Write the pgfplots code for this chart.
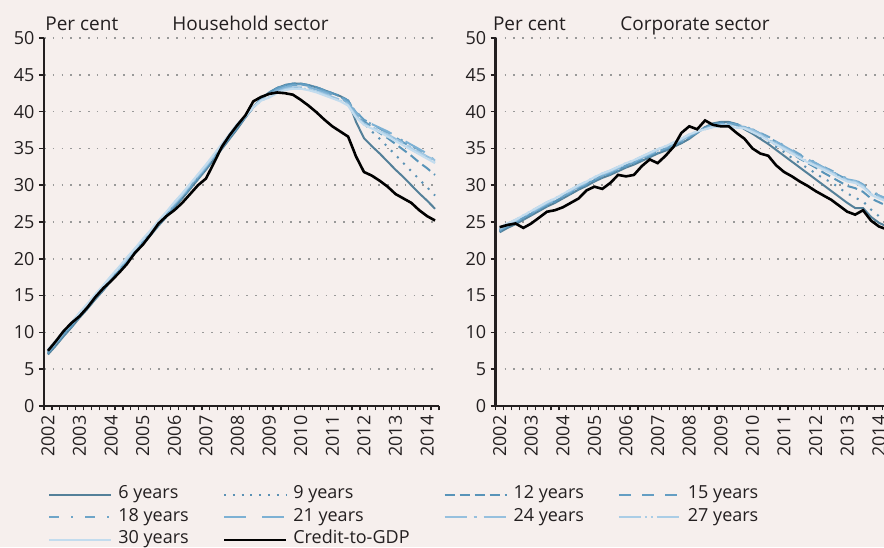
\documentclass[border=0pt]{standalone}
\usepackage{fontspec}
\setmainfont{Open Sans}
\usepackage{pgfplots}
\usepackage{pgfplotstable}
\pgfplotsset{compat=1.18}

\definecolor{bg}{RGB}{246,239,237}
\definecolor{txt}{RGB}{35,31,32}
\definecolor{y6}{RGB}{84,128,153}
\definecolor{y9}{RGB}{90,145,180}
\definecolor{y12}{RGB}{88,148,185}
\definecolor{y15}{RGB}{100,158,195}
\definecolor{y18}{RGB}{110,165,200}
\definecolor{y21}{RGB}{125,177,212}
\definecolor{y24}{RGB}{150,192,222}
\definecolor{y27}{RGB}{170,205,230}
\definecolor{y30}{RGB}{195,220,238}

% quarter index 0 = 2002Q1 ... 49 = 2014Q2
\pgfplotstableread{
i c6 c9 c12 c15 c18 c21 c24 c27 c30 cr
0 7.0 7.1 7.2 7.3 7.4 7.4 7.5 7.6 7.7 7.5
1 8.2 8.3 8.4 8.5 8.6 8.6 8.7 8.8 8.9 8.8
2 9.5 9.6 9.7 9.8 9.9 9.9 10.0 10.1 10.2 10.2
3 10.7 10.8 10.9 11.0 11.1 11.1 11.2 11.3 11.4 11.3
4 12.0 12.1 12.2 12.3 12.4 12.4 12.5 12.6 12.7 12.2
5 13.2 13.3 13.4 13.5 13.6 13.6 13.7 13.8 13.9 13.4
6 14.5 14.6 14.7 14.8 14.9 14.9 15.0 15.1 15.2 14.8
7 15.7 15.8 15.9 16.0 16.1 16.1 16.2 16.3 16.4 16.0
8 17.0 17.1 17.2 17.3 17.4 17.4 17.5 17.6 17.7 17.0
9 18.2 18.3 18.4 18.5 18.6 18.6 18.7 18.8 18.9 18.1
10 19.5 19.6 19.7 19.8 19.9 19.9 20.0 20.1 20.2 19.3
11 20.7 20.8 20.9 21.0 21.1 21.1 21.2 21.3 21.4 20.8
12 22.0 22.1 22.2 22.3 22.4 22.4 22.5 22.6 22.7 21.9
13 23.2 23.3 23.4 23.5 23.6 23.6 23.7 23.8 23.9 23.3
14 24.5 24.6 24.7 24.8 24.9 24.9 25.0 25.1 25.2 24.8
15 25.7 25.8 25.9 26.0 26.1 26.1 26.2 26.3 26.4 25.8
16 27.0 27.1 27.2 27.3 27.4 27.4 27.5 27.6 27.7 26.6
17 28.2 28.3 28.4 28.5 28.6 28.6 28.7 28.8 28.9 27.6
18 29.5 29.6 29.7 29.8 29.9 29.9 30.0 30.1 30.2 28.8
19 30.8 30.9 31.0 31.1 31.2 31.2 31.3 31.4 31.5 30.0
20 32.1 32.2 32.3 32.4 32.5 32.5 32.6 32.7 32.8 30.9
21 33.5 33.6 33.7 33.8 33.9 33.9 34.0 34.1 34.2 33.0
22 34.9 35.0 35.1 35.2 35.3 35.3 35.4 35.5 35.6 35.2
23 36.3 36.4 36.5 36.6 36.7 36.7 36.8 36.9 37.0 36.8
24 37.7 37.8 37.9 38.0 38.1 38.1 38.2 38.3 38.4 38.2
25 39.2 39.2 39.3 39.3 39.3 39.3 39.4 39.4 39.4 39.5
26 40.6 40.6 40.6 40.6 40.6 40.6 40.6 40.6 40.6 41.4
27 41.8 41.8 41.7 41.7 41.7 41.6 41.6 41.5 41.5 42.0
28 42.6 42.6 42.6 42.5 42.4 42.3 42.1 42.0 41.9 42.4
29 43.2 43.2 43.2 43.1 43.0 42.9 42.7 42.6 42.5 42.6
30 43.6 43.6 43.6 43.5 43.4 43.3 43.1 43.0 42.9 42.5
31 43.8 43.8 43.8 43.7 43.6 43.5 43.3 43.2 43.1 42.3
32 43.8 43.8 43.8 43.7 43.6 43.5 43.3 43.2 43.1 41.6
33 43.6 43.6 43.6 43.5 43.4 43.3 43.1 43.0 42.9 40.8
34 43.3 43.3 43.3 43.2 43.1 43.0 42.8 42.7 42.6 39.9
35 42.9 42.9 42.9 42.8 42.7 42.6 42.4 42.3 42.2 38.9
36 42.5 42.5 42.5 42.4 42.3 42.2 42.0 41.9 41.8 38.0
37 42.1 42.1 42.1 42.0 41.9 41.8 41.6 41.5 41.4 37.3
38 41.5 41.5 41.5 41.4 41.3 41.2 41.0 40.9 40.8 36.6
39 38.6 39.6 39.8 40.0 39.9 39.8 39.4 39.3 39.2 33.9
40 36.4 38.4 38.7 38.9 38.8 38.8 38.4 38.3 38.2 31.8
41 35.3 37.3 37.9 38.3 38.3 38.3 37.9 37.8 37.7 31.3
42 34.3 36.3 37.1 37.7 37.7 37.8 37.4 37.3 37.2 30.6
43 33.2 35.2 36.4 37.1 37.2 37.3 36.9 36.8 36.6 29.8
44 32.1 34.1 35.6 36.5 36.6 36.7 36.3 36.2 36.0 28.8
45 31.1 33.0 34.8 35.8 36.0 36.1 35.7 35.6 35.4 28.2
46 30.0 31.9 34.0 35.2 35.4 35.5 35.1 35.0 34.8 27.6
47 28.9 30.8 33.1 34.5 34.8 34.9 34.5 34.4 34.2 26.6
48 27.9 29.7 32.3 33.8 34.1 34.3 33.9 33.8 33.6 25.8
49 26.8 28.6 31.4 33.1 33.4 33.7 33.4 33.2 33.0 25.2
}\household

\pgfplotstableread{
i c6 c9 c12 c15 c18 c21 c24 c27 c30 cr
0 23.6 23.7 23.8 23.9 23.9 24.0 24.1 24.2 24.2 24.3
1 24.2 24.3 24.4 24.5 24.5 24.6 24.7 24.8 24.8 24.6
2 24.7 24.8 24.9 25.0 25.0 25.1 25.2 25.3 25.3 24.8
3 25.3 25.4 25.5 25.6 25.6 25.7 25.8 25.9 25.9 24.2
4 25.9 26.0 26.1 26.2 26.2 26.3 26.4 26.5 26.5 24.8
5 26.5 26.6 26.7 26.8 26.8 26.9 27.0 27.1 27.1 25.6
6 27.1 27.2 27.3 27.4 27.4 27.5 27.6 27.7 27.7 26.4
7 27.6 27.7 27.8 27.9 27.9 28.0 28.1 28.2 28.2 26.6
8 28.2 28.3 28.4 28.5 28.5 28.6 28.7 28.8 28.8 27.0
9 28.8 28.9 29.0 29.1 29.1 29.2 29.3 29.4 29.4 27.6
10 29.4 29.5 29.6 29.7 29.7 29.8 29.9 30.0 30.0 28.2
11 29.9 30.0 30.1 30.2 30.2 30.3 30.4 30.5 30.5 29.3
12 30.5 30.6 30.7 30.8 30.8 30.9 31.0 31.1 31.1 29.8
13 31.0 31.1 31.2 31.3 31.3 31.4 31.5 31.6 31.6 29.5
14 31.4 31.5 31.6 31.7 31.7 31.8 31.9 32.0 32.0 30.3
15 31.9 32.0 32.1 32.2 32.2 32.3 32.4 32.5 32.5 31.4
16 32.4 32.5 32.6 32.7 32.7 32.8 32.9 33.0 33.0 31.2
17 32.8 32.9 33.0 33.1 33.1 33.2 33.3 33.4 33.4 31.4
18 33.3 33.4 33.5 33.6 33.6 33.7 33.8 33.9 33.9 32.6
19 33.8 33.9 34.0 34.1 34.1 34.2 34.3 34.4 34.4 33.5
20 34.3 34.4 34.5 34.6 34.6 34.7 34.8 34.9 34.9 33.0
21 34.7 34.8 34.9 35.0 35.0 35.1 35.2 35.3 35.3 34.0
22 35.2 35.3 35.4 35.5 35.5 35.6 35.7 35.8 35.8 35.2
23 35.7 35.8 35.9 36.0 36.0 36.1 36.2 36.3 36.3 37.1
24 36.3 36.4 36.5 36.6 36.6 36.7 36.8 36.9 36.9 38.0
25 37.1 37.1 37.2 37.2 37.2 37.2 37.3 37.3 37.3 37.6
26 37.9 37.9 37.8 37.8 37.8 37.7 37.7 37.6 37.6 38.8
27 38.4 38.3 38.3 38.2 38.2 38.1 38.0 37.9 37.9 38.2
28 38.6 38.5 38.5 38.4 38.4 38.3 38.2 38.1 38.0 38.0
29 38.6 38.5 38.5 38.4 38.4 38.3 38.2 38.1 38.0 38.0
30 38.3 38.3 38.3 38.2 38.2 38.1 38.0 37.9 37.8 37.1
31 37.6 37.8 37.9 38.0 38.0 37.9 37.9 37.8 37.7 36.3
32 37.0 37.2 37.4 37.6 37.6 37.5 37.5 37.3 37.2 35.0
33 36.3 36.6 36.8 37.0 37.1 37.0 36.9 36.8 36.7 34.3
34 35.6 35.9 36.2 36.5 36.6 36.5 36.3 36.2 36.1 34.0
35 34.8 35.2 35.5 35.9 36.0 35.9 35.7 35.6 35.5 32.7
36 34.0 34.5 34.9 35.3 35.4 35.3 35.1 35.0 34.9 31.8
37 33.2 33.7 34.3 34.7 34.8 34.7 34.5 34.4 34.3 31.2
38 32.4 33.0 33.6 34.1 34.2 34.1 33.9 33.8 33.7 30.5
39 31.6 32.3 33.0 33.5 33.6 33.5 33.3 33.2 33.1 29.9
40 30.8 31.6 32.4 33.0 33.1 33.0 32.8 32.7 32.6 29.2
41 30.0 30.9 31.7 32.4 32.5 32.4 32.3 32.2 32.1 28.6
42 29.2 30.4 31.1 31.9 32.0 31.9 31.8 31.7 31.6 28.0
43 28.4 29.6 30.5 31.3 31.4 31.3 31.2 31.1 31.0 27.2
44 27.6 28.9 29.9 30.8 30.9 30.8 30.7 30.6 30.5 26.4
45 26.9 28.3 29.6 30.6 30.7 30.6 30.5 30.4 30.3 26.0
46 26.9 27.8 29.1 30.0 30.1 30.0 29.9 29.8 29.7 26.6
47 25.7 26.7 28.2 29.1 29.2 29.1 28.9 28.8 28.7 25.2
48 24.9 25.8 27.7 28.6 28.7 28.6 28.4 28.3 28.2 24.4
49 24.4 25.3 27.2 28.1 28.3 28.2 28.0 27.9 27.8 24.0
}\corporate

\pgfplotsset{
  panel/.style={
    scale only axis, width=197.5pt, height=184pt,
    xmin=-0.5, xmax=49.5, ymin=0, ymax=50,
    axis lines*=left,
    axis line style={txt, line width=1.25pt},
    xtick={0,4,...,48},
    xticklabels={2002,2003,2004,2005,2006,2007,2008,2009,2010,2011,2012,2013,2014},
    minor xtick={-0.5,0.5,...,49.5},
    every major x tick/.append style={draw=none},
    every minor x tick/.append style={txt, line width=0.6pt},
    minor tick length=2.2pt,
    ytick={0,5,...,50},
    major tick length=2.6pt,
    every major y tick/.append style={txt, line width=0.8pt},
    tick align=outside,
    ymajorgrids,
    grid style={gray!80, line width=0.8pt, dash pattern=on 0.8pt off 3.6pt},
    tick label style={font=\fontsize{9}{10}\selectfont, text=txt},
    xticklabel style={rotate=90, anchor=east, inner sep=2pt},
    yticklabel style={anchor=east, inner sep=2pt},
    /pgf/number format/assume math mode=true,
    legend image code/.code={\draw[##1] (0pt,0pt) -- (31pt,0pt);},
  },
  s6/.style={y6, line width=1pt},
  s9/.style={y9, line width=1pt, dash pattern=on 1pt off 3.4pt},
  s12/.style={y12, line width=1pt, dash pattern=on 5pt off 2.5pt},
  s15/.style={y15, line width=1pt, dash pattern=on 5.8pt off 5.8pt},
  s18/.style={y18, line width=1pt, dash pattern=on 5pt off 6pt on 1pt off 6pt},
  s21/.style={y21, line width=1pt, dash pattern=on 11pt off 8pt},
  s24/.style={y24, line width=1pt, dash pattern=on 11pt off 3.5pt on 1.5pt off 3.5pt},
  s27/.style={y27, line width=1pt, dash pattern=on 11pt off 2pt on 1pt off 2pt on 1pt off 2pt},
  s30/.style={y30, line width=1pt},
  scr/.style={black, line width=1.3pt},
}

\begin{document}
\begin{tikzpicture}
\useasboundingbox (0,0) rectangle (442pt,-273.5pt);
\fill[bg] (0,0) rectangle (442pt,-273.5pt);
\clip (0,0) rectangle (442pt,-273.5pt);

\begin{axis}[panel, at={(22pt,-203pt)}, anchor=south west,
  legend columns=4,
  legend cell align=left,
  legend style={at={(0.01,-0.21)}, anchor=north west, draw=none, fill=none,
    inner sep=0pt, font=\fontsize{9}{10}\selectfont, text=txt,
    nodes={inner sep=0pt, text height=7.5pt, text depth=3.75pt},
    /tikz/every odd column/.append style={column sep=3pt},
    /tikz/every even column/.append style={column sep=17pt}},
]
\addplot[s6] table[x=i, y=c6] {\household};
\addlegendentry{6 years}
\addplot[s9] table[x=i, y=c9] {\household};
\addlegendentry{9 years}
\addplot[s12] table[x=i, y=c12] {\household};
\addlegendentry{12 years}
\addplot[s15] table[x=i, y=c15] {\household};
\addlegendentry{15 years}
\addplot[s18] table[x=i, y=c18] {\household};
\addlegendentry{18 years}
\addplot[s21] table[x=i, y=c21] {\household};
\addlegendentry{21 years}
\addplot[s24] table[x=i, y=c24] {\household};
\addlegendentry{24 years}
\addplot[s27] table[x=i, y=c27] {\household};
\addlegendentry{27 years}
\addplot[s30] table[x=i, y=c30] {\household};
\addlegendentry{30 years}
\addplot[scr] table[x=i, y=cr] {\household};
\addlegendentry{Credit-to-GDP}
\end{axis}

\begin{axis}[panel, at={(247.85pt,-203pt)}, anchor=south west]
\addplot[s6] table[x=i, y=c6] {\corporate};
\addplot[s9] table[x=i, y=c9] {\corporate};
\addplot[s12] table[x=i, y=c12] {\corporate};
\addplot[s15] table[x=i, y=c15] {\corporate};
\addplot[s18] table[x=i, y=c18] {\corporate};
\addplot[s21] table[x=i, y=c21] {\corporate};
\addplot[s24] table[x=i, y=c24] {\corporate};
\addplot[s27] table[x=i, y=c27] {\corporate};
\addplot[s30] table[x=i, y=c30] {\corporate};
\addplot[scr] table[x=i, y=cr] {\corporate};
\end{axis}

\begin{scope}[font=\fontsize{9.5}{11}\selectfont, text=txt]
\node[anchor=base west, inner sep=0pt] at (22.5pt,-15pt) {Per cent};
\node[anchor=base west, inner sep=0pt] at (86pt,-15pt) {Household sector};
\node[anchor=base west, inner sep=0pt] at (246.3pt,-15pt) {Per cent};
\node[anchor=base west, inner sep=0pt] at (310pt,-15pt) {Corporate sector};
\end{scope}
\end{tikzpicture}
\end{document}
